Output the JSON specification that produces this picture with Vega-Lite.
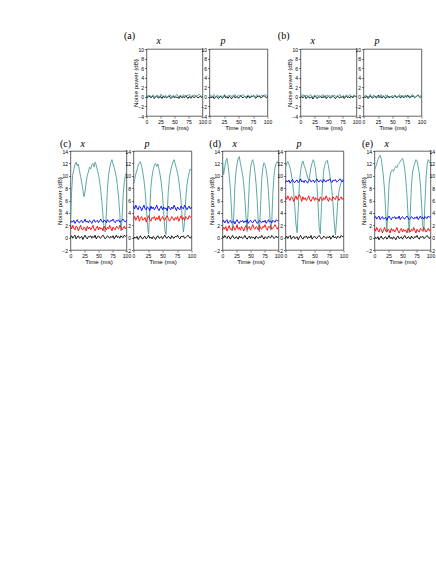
{
"$schema":"https://vega.github.io/schema/vega-lite/v6.json",
"background":"white",
"padding":{"left":43.5,"top":31,"right":0,"bottom":0},
"spacing":7,
"datasets":{
"cx":[{"t":0,"g":2.6,"k":0,"r":1.85,"b":2.4},{"t":2,"g":7.5,"k":0.3,"r":1.4,"b":2.7},{"t":4,"g":10.2,"k":-0.1,"r":2.0,"b":2.5},{"t":6,"g":11.0,"k":0.2,"r":1.55,"b":2.8},{"t":8,"g":11.8,"k":0.4,"r":1.25,"b":2.3},{"t":10,"g":12.2,"k":-0.2,"r":1.85,"b":2.6},{"t":12,"g":11.6,"k":0.1,"r":1.7,"b":2.9},{"t":14,"g":11.9,"k":0.3,"r":1.1,"b":2.5},{"t":16,"g":10.8,"k":-0.1,"r":1.55,"b":2.4},{"t":18,"g":9.9,"k":0,"r":2.0,"b":2.7},{"t":20,"g":8.9,"k":0.2,"r":1.4,"b":2.8},{"t":22,"g":7.8,"k":-0.3,"r":1.25,"b":2.4},{"t":24,"g":6.6,"k":0.1,"r":1.7,"b":2.6},{"t":26,"g":7.4,"k":0.4,"r":1.55,"b":3.0},{"t":28,"g":9.0,"k":0,"r":1.1,"b":2.5},{"t":30,"g":10.1,"k":-0.2,"r":1.85,"b":2.7},{"t":32,"g":10.6,"k":0.2,"r":1.4,"b":2.4},{"t":34,"g":11.4,"k":0.1,"r":1.7,"b":2.8},{"t":36,"g":11.1,"k":0.3,"r":1.25,"b":2.6},{"t":38,"g":11.8,"k":-0.1,"r":1.55,"b":2.3},{"t":40,"g":12.0,"k":0.2,"r":2.0,"b":2.7},{"t":42,"g":11.4,"k":0,"r":1.4,"b":2.9},{"t":44,"g":12.2,"k":0.4,"r":1.1,"b":2.5},{"t":46,"g":11.7,"k":-0.2,"r":1.55,"b":2.6},{"t":48,"g":10.9,"k":0.1,"r":1.85,"b":2.8},{"t":50,"g":10.2,"k":0.3,"r":1.25,"b":2.4},{"t":52,"g":9.1,"k":0,"r":1.7,"b":2.7},{"t":54,"g":7.6,"k":-0.1,"r":1.4,"b":3.0},{"t":56,"g":5.8,"k":0.2,"r":1.55,"b":2.6},{"t":58,"g":3.6,"k":0.4,"r":1.1,"b":2.5},{"t":60,"g":1.4,"k":0.1,"r":1.85,"b":2.8},{"t":62,"g":0.9,"k":-0.2,"r":1.55,"b":2.7},{"t":64,"g":3.8,"k":0,"r":1.25,"b":2.4},{"t":66,"g":7.9,"k":0.3,"r":1.7,"b":2.9},{"t":68,"g":10.1,"k":0.1,"r":1.4,"b":2.6},{"t":70,"g":11.2,"k":-0.1,"r":2.0,"b":2.5},{"t":72,"g":12.1,"k":0.2,"r":1.55,"b":2.8},{"t":74,"g":12.6,"k":0,"r":1.1,"b":2.7},{"t":76,"g":11.9,"k":0.3,"r":1.7,"b":3.0},{"t":78,"g":11.3,"k":-0.2,"r":1.4,"b":2.6},{"t":80,"g":10.6,"k":0.1,"r":1.25,"b":2.4},{"t":82,"g":9.7,"k":0.4,"r":1.85,"b":2.8},{"t":84,"g":8.2,"k":0,"r":1.55,"b":2.7},{"t":86,"g":6.4,"k":0.2,"r":1.4,"b":2.9},{"t":88,"g":3.9,"k":-0.1,"r":2.0,"b":2.5},{"t":90,"g":1.1,"k":0.3,"r":1.7,"b":2.6},{"t":92,"g":2.9,"k":0.1,"r":1.25,"b":2.8},{"t":94,"g":6.8,"k":0,"r":1.55,"b":3.0},{"t":96,"g":8.9,"k":0.4,"r":1.85,"b":2.7},{"t":98,"g":10.0,"k":0.2,"r":1.4,"b":2.5},{"t":100,"g":10.6,"k":0.3,"r":1.7,"b":2.8}],
"cp":[{"t":0,"g":8.6,"k":-0.2,"r":2.95,"b":5.1},{"t":2,"g":9.4,"k":0.1,"r":3.4,"b":4.65},{"t":4,"g":10.3,"k":-0.1,"r":2.8,"b":5.25},{"t":6,"g":10.9,"k":0.2,"r":3.25,"b":4.8},{"t":8,"g":11.6,"k":-0.3,"r":3.55,"b":4.5},{"t":10,"g":12.1,"k":0,"r":2.65,"b":5.1},{"t":12,"g":12.3,"k":0.3,"r":3.1,"b":4.95},{"t":14,"g":11.5,"k":-0.1,"r":3.4,"b":4.35},{"t":16,"g":10.6,"k":-0.2,"r":2.8,"b":4.8},{"t":18,"g":9.3,"k":0.1,"r":2.95,"b":5.25},{"t":20,"g":7.6,"k":0.2,"r":3.25,"b":4.65},{"t":22,"g":5.2,"k":-0.2,"r":2.5,"b":4.5},{"t":24,"g":2.1,"k":0,"r":3.1,"b":4.95},{"t":26,"g":0.6,"k":0.4,"r":3.55,"b":4.8},{"t":28,"g":4.3,"k":-0.1,"r":2.95,"b":4.35},{"t":30,"g":8.2,"k":0.1,"r":2.65,"b":5.1},{"t":32,"g":9.9,"k":-0.2,"r":3.25,"b":4.65},{"t":34,"g":11.0,"k":0.2,"r":3.1,"b":4.95},{"t":36,"g":11.7,"k":0,"r":3.4,"b":4.5},{"t":38,"g":12.0,"k":-0.3,"r":2.8,"b":4.8},{"t":40,"g":11.5,"k":0.1,"r":3.25,"b":5.25},{"t":42,"g":11.9,"k":0.3,"r":2.95,"b":4.65},{"t":44,"g":11.0,"k":-0.1,"r":3.55,"b":4.35},{"t":46,"g":10.1,"k":0,"r":2.65,"b":4.8},{"t":48,"g":8.8,"k":0.2,"r":3.1,"b":5.1},{"t":50,"g":6.9,"k":-0.2,"r":3.4,"b":4.5},{"t":52,"g":4.2,"k":0.1,"r":2.95,"b":4.95},{"t":54,"g":1.3,"k":0.4,"r":2.8,"b":4.65},{"t":56,"g":0.5,"k":0,"r":3.25,"b":4.8},{"t":58,"g":3.7,"k":-0.1,"r":3.55,"b":4.35},{"t":60,"g":7.5,"k":0.2,"r":3.1,"b":5.1},{"t":62,"g":9.6,"k":0.1,"r":2.65,"b":4.8},{"t":64,"g":10.8,"k":-0.2,"r":2.95,"b":4.5},{"t":66,"g":11.6,"k":0.3,"r":3.4,"b":4.95},{"t":68,"g":12.2,"k":0,"r":3.1,"b":4.65},{"t":70,"g":12.6,"k":-0.1,"r":2.8,"b":5.25},{"t":72,"g":11.9,"k":0.2,"r":3.25,"b":4.8},{"t":74,"g":11.2,"k":0.1,"r":2.95,"b":4.35},{"t":76,"g":10.4,"k":0.4,"r":3.4,"b":4.95},{"t":78,"g":9.3,"k":0,"r":2.65,"b":4.65},{"t":80,"g":7.8,"k":-0.2,"r":3.1,"b":4.5},{"t":82,"g":5.9,"k":0.2,"r":3.55,"b":5.1},{"t":84,"g":3.2,"k":0.1,"r":2.95,"b":4.8},{"t":86,"g":0.9,"k":0.3,"r":3.25,"b":4.65},{"t":88,"g":2.4,"k":-0.1,"r":2.8,"b":5.25},{"t":90,"g":6.1,"k":0,"r":3.4,"b":4.95},{"t":92,"g":8.4,"k":0.2,"r":3.1,"b":4.5},{"t":94,"g":9.7,"k":0.4,"r":2.95,"b":4.8},{"t":96,"g":10.5,"k":0.1,"r":3.55,"b":5.1},{"t":98,"g":11.1,"k":-0.1,"r":3.25,"b":4.65},{"t":100,"g":10.8,"k":0.2,"r":3.4,"b":4.95}],
"dx":[{"t":0,"g":12.3,"k":0.25,"r":1.2,"b":2.5},{"t":2,"g":10.2,"k":-0.05,"r":1.65,"b":2.8},{"t":4,"g":11.4,"k":0.35,"r":1.35,"b":2.4},{"t":6,"g":12.4,"k":0.05,"r":1.8,"b":2.7},{"t":8,"g":12.8,"k":-0.15,"r":1.05,"b":2.9},{"t":10,"g":11.6,"k":0.25,"r":1.5,"b":2.3},{"t":12,"g":10.0,"k":0.15,"r":1.95,"b":2.6},{"t":14,"g":7.9,"k":-0.25,"r":1.35,"b":2.8},{"t":16,"g":4.6,"k":0.05,"r":1.2,"b":2.4},{"t":18,"g":1.1,"k":0.35,"r":1.65,"b":2.5},{"t":20,"g":3.4,"k":-0.05,"r":1.8,"b":2.7},{"t":22,"g":8.2,"k":-0.15,"r":1.2,"b":2.2},{"t":24,"g":10.6,"k":0.15,"r":1.5,"b":2.6},{"t":26,"g":11.9,"k":0.05,"r":2.1,"b":2.9},{"t":28,"g":12.7,"k":-0.25,"r":1.35,"b":2.5},{"t":30,"g":13.1,"k":0.25,"r":1.65,"b":2.3},{"t":32,"g":12.0,"k":-0.05,"r":1.2,"b":2.7},{"t":34,"g":11.1,"k":0.15,"r":1.8,"b":2.6},{"t":36,"g":10.1,"k":-0.15,"r":1.5,"b":2.8},{"t":38,"g":8.6,"k":0.05,"r":1.05,"b":2.4},{"t":40,"g":6.3,"k":0.35,"r":1.65,"b":2.7},{"t":42,"g":3.2,"k":-0.05,"r":1.95,"b":2.5},{"t":44,"g":1.0,"k":-0.25,"r":1.35,"b":2.9},{"t":46,"g":4.8,"k":0.05,"r":1.5,"b":2.3},{"t":48,"g":9.0,"k":0.25,"r":1.8,"b":2.6},{"t":50,"g":11.2,"k":-0.15,"r":1.2,"b":2.8},{"t":52,"g":12.2,"k":0.15,"r":1.65,"b":2.5},{"t":54,"g":12.6,"k":-0.05,"r":2.1,"b":2.4},{"t":56,"g":11.8,"k":0.05,"r":1.5,"b":2.7},{"t":58,"g":10.5,"k":-0.25,"r":1.35,"b":2.9},{"t":60,"g":8.7,"k":0.25,"r":1.8,"b":2.6},{"t":62,"g":5.9,"k":0.05,"r":1.65,"b":2.3},{"t":64,"g":2.2,"k":-0.15,"r":1.2,"b":2.5},{"t":66,"g":0.9,"k":0.15,"r":1.95,"b":2.8},{"t":68,"g":5.2,"k":-0.05,"r":1.5,"b":2.6},{"t":70,"g":9.4,"k":0.35,"r":1.35,"b":2.4},{"t":72,"g":11.3,"k":0.05,"r":1.8,"b":2.7},{"t":74,"g":12.1,"k":-0.25,"r":1.65,"b":2.5},{"t":76,"g":11.8,"k":0.15,"r":2.1,"b":2.8},{"t":78,"g":10.9,"k":-0.05,"r":1.5,"b":2.3},{"t":80,"g":9.6,"k":-0.15,"r":1.2,"b":2.6},{"t":82,"g":7.6,"k":0.25,"r":1.8,"b":2.9},{"t":84,"g":4.4,"k":0.05,"r":1.65,"b":2.5},{"t":86,"g":1.2,"k":-0.05,"r":1.95,"b":2.7},{"t":88,"g":2.6,"k":0.35,"r":1.35,"b":2.4},{"t":90,"g":7.3,"k":0.15,"r":1.5,"b":2.8},{"t":92,"g":10.0,"k":-0.15,"r":1.8,"b":2.6},{"t":94,"g":11.4,"k":0.05,"r":2.1,"b":2.5},{"t":96,"g":12.0,"k":0.25,"r":1.65,"b":2.9},{"t":98,"g":12.3,"k":-0.05,"r":1.35,"b":2.7},{"t":100,"g":11.9,"k":0.15,"r":1.8,"b":2.8}],
"dp":[{"t":0,"g":11.4,"k":-0.05,"r":6.6,"b":8.9},{"t":2,"g":11.9,"k":0.25,"r":6.15,"b":9.2},{"t":4,"g":12.3,"k":-0.15,"r":6.75,"b":9.0},{"t":6,"g":11.8,"k":0.15,"r":6.3,"b":9.3},{"t":8,"g":11.2,"k":0.35,"r":6.0,"b":8.8},{"t":10,"g":10.3,"k":-0.25,"r":6.6,"b":9.1},{"t":12,"g":9.1,"k":0.05,"r":6.45,"b":9.4},{"t":14,"g":7.4,"k":0.25,"r":5.85,"b":9.0},{"t":16,"g":5.0,"k":-0.15,"r":6.3,"b":8.9},{"t":18,"g":2.2,"k":-0.05,"r":6.75,"b":9.2},{"t":20,"g":0.8,"k":0.15,"r":6.15,"b":9.3},{"t":22,"g":4.6,"k":-0.35,"r":6.6,"b":8.9},{"t":24,"g":8.7,"k":0.05,"r":6.95,"b":9.1},{"t":26,"g":10.8,"k":0.35,"r":6.5,"b":9.5},{"t":28,"g":11.9,"k":-0.05,"r":5.85,"b":9.0},{"t":30,"g":12.4,"k":-0.25,"r":6.6,"b":9.2},{"t":32,"g":11.7,"k":0.15,"r":6.15,"b":8.9},{"t":34,"g":11.2,"k":0.05,"r":6.45,"b":9.3},{"t":36,"g":10.5,"k":0.25,"r":6.0,"b":9.1},{"t":38,"g":9.8,"k":-0.15,"r":6.3,"b":8.8},{"t":40,"g":9.3,"k":0.15,"r":6.75,"b":9.2},{"t":42,"g":10.2,"k":-0.05,"r":6.15,"b":9.4},{"t":44,"g":11.4,"k":0.35,"r":5.85,"b":9.0},{"t":46,"g":12.1,"k":-0.25,"r":6.3,"b":9.1},{"t":48,"g":12.6,"k":0.05,"r":6.6,"b":9.3},{"t":50,"g":12.0,"k":0.25,"r":6.0,"b":8.9},{"t":52,"g":10.8,"k":-0.05,"r":6.45,"b":9.2},{"t":54,"g":8.9,"k":-0.15,"r":6.15,"b":9.5},{"t":56,"g":5.6,"k":0.15,"r":6.3,"b":9.1},{"t":58,"g":1.8,"k":0.35,"r":5.85,"b":9.0},{"t":60,"g":0.6,"k":0.05,"r":6.6,"b":9.3},{"t":62,"g":4.9,"k":-0.25,"r":6.3,"b":9.2},{"t":64,"g":8.8,"k":-0.05,"r":6.0,"b":8.9},{"t":66,"g":10.9,"k":0.25,"r":6.45,"b":9.4},{"t":68,"g":11.8,"k":0.05,"r":6.15,"b":9.1},{"t":70,"g":12.3,"k":-0.15,"r":6.75,"b":9.0},{"t":72,"g":12.5,"k":0.15,"r":6.3,"b":9.3},{"t":74,"g":11.6,"k":-0.05,"r":5.85,"b":9.2},{"t":76,"g":10.4,"k":0.25,"r":6.45,"b":9.5},{"t":78,"g":9.2,"k":-0.25,"r":6.15,"b":9.1},{"t":80,"g":7.6,"k":0.05,"r":6.0,"b":8.9},{"t":82,"g":5.3,"k":0.35,"r":6.6,"b":9.3},{"t":84,"g":2.4,"k":-0.05,"r":6.3,"b":9.2},{"t":86,"g":0.4,"k":0.15,"r":6.15,"b":9.4},{"t":88,"g":2.7,"k":-0.15,"r":6.75,"b":9.0},{"t":90,"g":5.8,"k":0.25,"r":6.45,"b":9.1},{"t":92,"g":7.4,"k":0.05,"r":6.0,"b":9.3},{"t":94,"g":8.3,"k":-0.05,"r":6.3,"b":9.5},{"t":96,"g":8.9,"k":0.35,"r":6.6,"b":9.2},{"t":98,"g":9.4,"k":0.15,"r":6.15,"b":9.0},{"t":100,"g":9.1,"k":0.25,"r":6.45,"b":9.3}],
"ex":[{"t":0,"g":10.9,"k":-0.25,"r":1.5,"b":3.1},{"t":2,"g":11.4,"k":0.05,"r":1.05,"b":3.4},{"t":4,"g":11.9,"k":-0.15,"r":1.65,"b":3.0},{"t":6,"g":12.6,"k":0.15,"r":1.2,"b":3.3},{"t":8,"g":13.0,"k":-0.35,"r":0.9,"b":3.5},{"t":10,"g":13.3,"k":-0.05,"r":1.5,"b":2.9},{"t":12,"g":12.7,"k":0.25,"r":1.35,"b":3.2},{"t":14,"g":11.4,"k":-0.15,"r":0.75,"b":3.4},{"t":16,"g":9.8,"k":-0.25,"r":1.2,"b":3.0},{"t":18,"g":7.6,"k":0.05,"r":1.65,"b":3.1},{"t":20,"g":4.2,"k":0.15,"r":1.05,"b":3.3},{"t":22,"g":0.9,"k":-0.25,"r":0.9,"b":2.8},{"t":24,"g":4.5,"k":-0.05,"r":1.35,"b":3.2},{"t":26,"g":8.6,"k":0.35,"r":1.2,"b":3.5},{"t":28,"g":10.1,"k":-0.15,"r":0.75,"b":3.1},{"t":30,"g":10.8,"k":0.05,"r":1.5,"b":2.9},{"t":32,"g":11.0,"k":-0.25,"r":1.05,"b":3.3},{"t":34,"g":10.7,"k":0.15,"r":1.35,"b":3.2},{"t":36,"g":11.2,"k":-0.05,"r":0.9,"b":3.4},{"t":38,"g":11.5,"k":-0.35,"r":1.2,"b":3.0},{"t":40,"g":11.3,"k":0.05,"r":1.65,"b":3.3},{"t":42,"g":11.8,"k":0.25,"r":1.05,"b":3.1},{"t":44,"g":12.0,"k":-0.15,"r":0.75,"b":3.5},{"t":46,"g":12.3,"k":-0.05,"r":1.2,"b":2.9},{"t":48,"g":12.6,"k":0.15,"r":1.5,"b":3.2},{"t":50,"g":12.8,"k":-0.25,"r":0.9,"b":3.4},{"t":52,"g":12.2,"k":0.05,"r":1.35,"b":3.1},{"t":54,"g":11.0,"k":0.35,"r":1.05,"b":3.0},{"t":56,"g":9.3,"k":-0.05,"r":1.2,"b":3.3},{"t":58,"g":6.8,"k":-0.15,"r":0.75,"b":3.5},{"t":60,"g":3.4,"k":0.15,"r":1.5,"b":3.2},{"t":62,"g":0.8,"k":0.05,"r":1.2,"b":2.9},{"t":64,"g":4.1,"k":-0.25,"r":0.9,"b":3.1},{"t":66,"g":8.5,"k":0.25,"r":1.35,"b":3.4},{"t":68,"g":10.6,"k":-0.05,"r":1.05,"b":3.2},{"t":70,"g":11.5,"k":-0.15,"r":1.65,"b":3.0},{"t":72,"g":12.0,"k":0.15,"r":1.2,"b":3.3},{"t":74,"g":12.6,"k":0.05,"r":0.75,"b":3.1},{"t":76,"g":12.4,"k":0.35,"r":1.35,"b":3.4},{"t":78,"g":11.5,"k":-0.05,"r":1.05,"b":2.9},{"t":80,"g":10.4,"k":-0.25,"r":0.9,"b":3.2},{"t":82,"g":8.5,"k":0.15,"r":1.5,"b":3.5},{"t":84,"g":5.6,"k":0.05,"r":1.2,"b":3.1},{"t":86,"g":2.0,"k":0.25,"r":1.05,"b":3.3},{"t":88,"g":1.0,"k":-0.15,"r":1.65,"b":3.0},{"t":90,"g":5.4,"k":-0.05,"r":1.35,"b":3.4},{"t":92,"g":9.6,"k":0.15,"r":0.9,"b":3.2},{"t":94,"g":11.8,"k":0.35,"r":1.2,"b":3.1},{"t":96,"g":12.6,"k":0.05,"r":1.5,"b":3.5},{"t":98,"g":12.3,"k":-0.15,"r":1.05,"b":3.3},{"t":100,"g":12.0,"k":0.15,"r":1.35,"b":3.4}],
"ax":[{"t":0,"k":0.15,"g":-0.05},{"t":2,"k":-0.15,"g":0.25},{"t":4,"k":0.25,"g":0.05},{"t":6,"k":-0.05,"g":0.35},{"t":8,"k":-0.25,"g":-0.15},{"t":10,"k":0.15,"g":0.15},{"t":12,"k":0.05,"g":0.45},{"t":14,"k":-0.35,"g":0.05},{"t":16,"k":-0.05,"g":-0.05},{"t":18,"k":0.25,"g":0.25},{"t":20,"k":-0.15,"g":0.35},{"t":22,"k":-0.25,"g":-0.05},{"t":24,"k":0.05,"g":0.15},{"t":26,"k":-0.05,"g":0.55},{"t":28,"k":-0.35,"g":0.05},{"t":30,"k":0.15,"g":0.25},{"t":32,"k":-0.15,"g":-0.05},{"t":34,"k":0.05,"g":0.35},{"t":36,"k":-0.25,"g":0.15},{"t":38,"k":-0.05,"g":-0.15},{"t":40,"k":0.25,"g":0.25},{"t":42,"k":-0.15,"g":0.45},{"t":44,"k":-0.35,"g":0.05},{"t":46,"k":-0.05,"g":0.15},{"t":48,"k":0.15,"g":0.35},{"t":50,"k":-0.25,"g":-0.05},{"t":52,"k":0.05,"g":0.25},{"t":54,"k":-0.15,"g":0.55},{"t":56,"k":-0.05,"g":0.15},{"t":58,"k":-0.35,"g":0.05},{"t":60,"k":0.15,"g":0.35},{"t":62,"k":-0.05,"g":0.25},{"t":64,"k":-0.25,"g":-0.05},{"t":66,"k":0.05,"g":0.45},{"t":68,"k":-0.15,"g":0.15},{"t":70,"k":0.25,"g":0.05},{"t":72,"k":-0.05,"g":0.35},{"t":74,"k":-0.35,"g":0.25},{"t":76,"k":0.05,"g":0.55},{"t":78,"k":-0.15,"g":0.15},{"t":80,"k":-0.25,"g":-0.05},{"t":82,"k":0.15,"g":0.35},{"t":84,"k":-0.05,"g":0.25},{"t":86,"k":-0.15,"g":0.45},{"t":88,"k":0.25,"g":0.05},{"t":90,"k":0.05,"g":0.15},{"t":92,"k":-0.25,"g":0.35},{"t":94,"k":-0.05,"g":0.55},{"t":96,"k":0.15,"g":0.25},{"t":98,"k":-0.15,"g":0.05},{"t":100,"k":0.05,"g":0.35}],
"ap":[{"t":0,"k":-0.3,"g":0.1},{"t":2,"k":0,"g":0.4},{"t":4,"k":-0.2,"g":0},{"t":6,"k":0.1,"g":0.3},{"t":8,"k":-0.4,"g":0.5},{"t":10,"k":-0.1,"g":-0.1},{"t":12,"k":0.2,"g":0.2},{"t":14,"k":-0.2,"g":0.4},{"t":16,"k":-0.3,"g":0},{"t":18,"k":0,"g":0.1},{"t":20,"k":0.1,"g":0.3},{"t":22,"k":-0.3,"g":-0.2},{"t":24,"k":-0.1,"g":0.2},{"t":26,"k":0.3,"g":0.5},{"t":28,"k":-0.2,"g":0.1},{"t":30,"k":0,"g":-0.1},{"t":32,"k":-0.3,"g":0.3},{"t":34,"k":0.1,"g":0.2},{"t":36,"k":-0.1,"g":0.4},{"t":38,"k":-0.4,"g":0},{"t":40,"k":0,"g":0.3},{"t":42,"k":0.2,"g":0.1},{"t":44,"k":-0.2,"g":0.5},{"t":46,"k":-0.1,"g":-0.1},{"t":48,"k":0.1,"g":0.2},{"t":50,"k":-0.3,"g":0.4},{"t":52,"k":0,"g":0.1},{"t":54,"k":0.3,"g":0},{"t":56,"k":-0.1,"g":0.3},{"t":58,"k":-0.2,"g":0.5},{"t":60,"k":0.1,"g":0.2},{"t":62,"k":0,"g":-0.1},{"t":64,"k":-0.3,"g":0.1},{"t":66,"k":0.2,"g":0.4},{"t":68,"k":-0.1,"g":0.2},{"t":70,"k":-0.2,"g":0},{"t":72,"k":0.1,"g":0.3},{"t":74,"k":0,"g":0.1},{"t":76,"k":0.3,"g":0.4},{"t":78,"k":-0.1,"g":-0.1},{"t":80,"k":-0.3,"g":0.2},{"t":82,"k":0.1,"g":0.5},{"t":84,"k":0,"g":0.1},{"t":86,"k":0.2,"g":0.3},{"t":88,"k":-0.2,"g":0},{"t":90,"k":-0.1,"g":0.4},{"t":92,"k":0.1,"g":0.2},{"t":94,"k":0.3,"g":0.1},{"t":96,"k":0,"g":0.5},{"t":98,"k":-0.2,"g":0.3},{"t":100,"k":0.1,"g":0.4}],
"bx":[{"t":0,"k":-0.15,"g":0.4},{"t":2,"k":0.15,"g":0.1},{"t":4,"k":-0.25,"g":0.5},{"t":6,"k":0.05,"g":0.2},{"t":8,"k":0.25,"g":0},{"t":10,"k":-0.35,"g":0.4},{"t":12,"k":-0.05,"g":0.3},{"t":14,"k":0.15,"g":-0.1},{"t":16,"k":-0.25,"g":0.2},{"t":18,"k":-0.15,"g":0.5},{"t":20,"k":0.05,"g":0.1},{"t":22,"k":-0.45,"g":0},{"t":24,"k":-0.05,"g":0.3},{"t":26,"k":0.25,"g":0.2},{"t":28,"k":-0.15,"g":-0.1},{"t":30,"k":-0.35,"g":0.4},{"t":32,"k":0.05,"g":0.1},{"t":34,"k":-0.05,"g":0.3},{"t":36,"k":0.15,"g":0},{"t":38,"k":-0.25,"g":0.2},{"t":40,"k":0.05,"g":0.5},{"t":42,"k":-0.15,"g":0.1},{"t":44,"k":0.25,"g":-0.1},{"t":46,"k":-0.35,"g":0.2},{"t":48,"k":-0.05,"g":0.4},{"t":50,"k":0.15,"g":0},{"t":52,"k":-0.15,"g":0.3},{"t":54,"k":-0.25,"g":0.1},{"t":56,"k":0.05,"g":0.2},{"t":58,"k":0.25,"g":-0.1},{"t":60,"k":-0.05,"g":0.4},{"t":62,"k":-0.35,"g":0.2},{"t":64,"k":-0.15,"g":0},{"t":66,"k":0.15,"g":0.3},{"t":68,"k":-0.05,"g":0.1},{"t":70,"k":-0.25,"g":0.5},{"t":72,"k":0.05,"g":0.2},{"t":74,"k":-0.15,"g":-0.1},{"t":76,"k":0.15,"g":0.3},{"t":78,"k":-0.35,"g":0.1},{"t":80,"k":-0.05,"g":0},{"t":82,"k":0.25,"g":0.4},{"t":84,"k":-0.15,"g":0.2},{"t":86,"k":0.05,"g":0.1},{"t":88,"k":-0.25,"g":0.5},{"t":90,"k":0.15,"g":0.3},{"t":92,"k":-0.05,"g":0},{"t":94,"k":-0.15,"g":0.2},{"t":96,"k":0.25,"g":0.4},{"t":98,"k":0.05,"g":0.1},{"t":100,"k":0.15,"g":0.3}],
"bp":[{"t":0,"k":-0.25,"g":0.3},{"t":2,"k":0.05,"g":0},{"t":4,"k":-0.15,"g":0.4},{"t":6,"k":0.15,"g":0.1},{"t":8,"k":-0.35,"g":-0.1},{"t":10,"k":-0.05,"g":0.3},{"t":12,"k":0.25,"g":0.5},{"t":14,"k":-0.15,"g":0},{"t":16,"k":-0.25,"g":0.1},{"t":18,"k":0.05,"g":0.4},{"t":20,"k":0.15,"g":-0.1},{"t":22,"k":-0.25,"g":0},{"t":24,"k":-0.05,"g":0.3},{"t":26,"k":0.35,"g":-0.2},{"t":28,"k":-0.15,"g":0.1},{"t":30,"k":0.05,"g":0.5},{"t":32,"k":-0.25,"g":0},{"t":34,"k":0.15,"g":0.3},{"t":36,"k":-0.05,"g":-0.1},{"t":38,"k":-0.35,"g":0.4},{"t":40,"k":0.05,"g":0.2},{"t":42,"k":0.25,"g":-0.2},{"t":44,"k":-0.15,"g":0},{"t":46,"k":-0.05,"g":0.1},{"t":48,"k":0.15,"g":0},{"t":50,"k":-0.25,"g":0.3},{"t":52,"k":0.05,"g":-0.1},{"t":54,"k":0.35,"g":0.4},{"t":56,"k":-0.05,"g":0.2},{"t":58,"k":-0.15,"g":-0.2},{"t":60,"k":0.15,"g":0},{"t":62,"k":0.05,"g":0.5},{"t":64,"k":-0.25,"g":0.1},{"t":66,"k":0.25,"g":-0.1},{"t":68,"k":-0.05,"g":0.3},{"t":70,"k":-0.15,"g":0},{"t":72,"k":0.15,"g":0.4},{"t":74,"k":0.05,"g":-0.2},{"t":76,"k":0.35,"g":0.1},{"t":78,"k":-0.05,"g":0.3},{"t":80,"k":-0.25,"g":-0.1},{"t":82,"k":0.15,"g":0},{"t":84,"k":0.05,"g":0.5},{"t":86,"k":0.25,"g":0.1},{"t":88,"k":-0.15,"g":-0.2},{"t":90,"k":-0.05,"g":-0.1},{"t":92,"k":0.15,"g":0.2},{"t":94,"k":0.35,"g":0.5},{"t":96,"k":0.05,"g":0},{"t":98,"k":-0.15,"g":0.3},{"t":100,"k":0.15,"g":0.2}]
},
"vconcat":[
{"hconcat":[
{"width":95.5,"height":67,"title":{"text":"(a)","anchor":"end","dx":-4,"offset":8,"fontStyle":"normal"},"view":{"stroke":null},"data":{"values":[]},"mark":"point","encoding":{}},
{"width":56,"height":67,"title":{"text":"x","dx":10},"data":{"name":"ax"},"transform":[{"fold":["k","g"],"as":["s","v"]}],"mark":{"type":"line","strokeWidth":0.9},"encoding":{"x":{"field":"t","type":"quantitative","scale":{"domain":[0,100]},"axis":{"values":[0,25,50,75,100],"title":"Time (ms)"}},"y":{"field":"v","type":"quantitative","scale":{"domain":[-4,10]},"axis":{"values":[-4,-2,0,2,4,6,8,10],"title":"Noise power (dB)"}},"color":{"field":"s","type":"nominal","scale":{"domain":["g","k","r","b"],"range":["#4d9e99","#000000","#ff0000","#0000ff"]},"legend":null}}},
{"width":58,"height":67,"title":{"text":"p","dx":11},"data":{"name":"ap"},"transform":[{"fold":["k","g"],"as":["s","v"]}],"mark":{"type":"line","strokeWidth":0.9},"encoding":{"x":{"field":"t","type":"quantitative","scale":{"domain":[0,100]},"axis":{"values":[0,25,50,75,100],"title":"Time (ms)"}},"y":{"field":"v","type":"quantitative","scale":{"domain":[-4,10]},"axis":{"values":[-4,-2,0,2,4,6,8,10],"title":null}},"color":{"field":"s","type":"nominal","scale":{"domain":["g","k","r","b"],"range":["#4d9e99","#000000","#ff0000","#0000ff"]},"legend":null}}},
{"width":19,"height":67,"title":{"text":"(b)","anchor":"end","dx":-4,"offset":8,"fontStyle":"normal"},"view":{"stroke":null},"data":{"values":[]},"mark":"point","encoding":{}},
{"width":56,"height":67,"title":{"text":"x","dx":10},"data":{"name":"bx"},"transform":[{"fold":["k","g"],"as":["s","v"]}],"mark":{"type":"line","strokeWidth":0.9},"encoding":{"x":{"field":"t","type":"quantitative","scale":{"domain":[0,100]},"axis":{"values":[0,25,50,75,100],"title":"Time (ms)"}},"y":{"field":"v","type":"quantitative","scale":{"domain":[-4,10]},"axis":{"values":[-4,-2,0,2,4,6,8,10],"title":"Noise power (dB)"}},"color":{"field":"s","type":"nominal","scale":{"domain":["g","k","r","b"],"range":["#4d9e99","#000000","#ff0000","#0000ff"]},"legend":null}}},
{"width":58,"height":67,"title":{"text":"p","dx":11},"data":{"name":"bp"},"transform":[{"fold":["k","g"],"as":["s","v"]}],"mark":{"type":"line","strokeWidth":0.9},"encoding":{"x":{"field":"t","type":"quantitative","scale":{"domain":[0,100]},"axis":{"values":[0,25,50,75,100],"title":"Time (ms)"}},"y":{"field":"v","type":"quantitative","scale":{"domain":[-4,10]},"axis":{"values":[-4,-2,0,2,4,6,8,10],"title":null}},"color":{"field":"s","type":"nominal","scale":{"domain":["g","k","r","b"],"range":["#4d9e99","#000000","#ff0000","#0000ff"]},"legend":null}}}
],"spacing":7,"bounds":"flush"},
{"hconcat":[
{"width":20,"height":99,"title":{"text":"(c)","anchor":"end","dx":7.5,"offset":2.5,"fontStyle":"normal"},"view":{"stroke":null},"data":{"values":[]},"mark":"point","encoding":{}},
{"width":56,"height":99,"title":{"text":"x","dx":10,"offset":0.5},"data":{"name":"cx"},"transform":[{"fold":["g","k","r","b"],"as":["s","v"]}],"mark":{"type":"line","strokeWidth":0.9},"encoding":{"x":{"field":"t","type":"quantitative","scale":{"domain":[0,100]},"axis":{"values":[0,25,50,75,100],"title":"Time (ms)"}},"y":{"field":"v","type":"quantitative","scale":{"domain":[-2,14]},"axis":{"values":[-2,0,2,4,6,8,10,12,14],"title":"Noise power (dB)"}},"color":{"field":"s","type":"nominal","scale":{"domain":["g","k","r","b"],"range":["#4d9e99","#000000","#ff0000","#0000ff"]},"legend":null}}},
{"width":58,"height":99,"title":{"text":"p","dx":11,"offset":0.5},"data":{"name":"cp"},"transform":[{"fold":["g","k","r","b"],"as":["s","v"]}],"mark":{"type":"line","strokeWidth":0.9},"encoding":{"x":{"field":"t","type":"quantitative","scale":{"domain":[0,100]},"axis":{"values":[0,25,50,75,100],"title":"Time (ms)"}},"y":{"field":"v","type":"quantitative","scale":{"domain":[-2,14]},"axis":{"values":[-2,0,2,4,6,8,10,12,14],"title":null}},"color":{"field":"s","type":"nominal","scale":{"domain":["g","k","r","b"],"range":["#4d9e99","#000000","#ff0000","#0000ff"]},"legend":null}}},
{"width":16.5,"height":99,"title":{"text":"(d)","anchor":"end","dx":6,"offset":2.5,"fontStyle":"normal"},"view":{"stroke":null},"data":{"values":[]},"mark":"point","encoding":{}},
{"width":56,"height":99,"title":{"text":"x","dx":10,"offset":0.5},"data":{"name":"dx"},"transform":[{"fold":["g","k","r","b"],"as":["s","v"]}],"mark":{"type":"line","strokeWidth":0.9},"encoding":{"x":{"field":"t","type":"quantitative","scale":{"domain":[0,100]},"axis":{"values":[0,25,50,75,100],"title":"Time (ms)"}},"y":{"field":"v","type":"quantitative","scale":{"domain":[-2,14]},"axis":{"values":[-2,0,2,4,6,8,10,12,14],"title":"Noise power (dB)"}},"color":{"field":"s","type":"nominal","scale":{"domain":["g","k","r","b"],"range":["#4d9e99","#000000","#ff0000","#0000ff"]},"legend":null}}},
{"width":58,"height":99,"title":{"text":"p","dx":11,"offset":0.5},"data":{"name":"dp"},"transform":[{"fold":["g","k","r","b"],"as":["s","v"]}],"mark":{"type":"line","strokeWidth":0.9},"encoding":{"x":{"field":"t","type":"quantitative","scale":{"domain":[0,100]},"axis":{"values":[0,25,50,75,100],"title":"Time (ms)"}},"y":{"field":"v","type":"quantitative","scale":{"domain":[-2,14]},"axis":{"values":[-2,0,2,4,6,8,10,12,14],"title":null}},"color":{"field":"s","type":"nominal","scale":{"domain":["g","k","r","b"],"range":["#4d9e99","#000000","#ff0000","#0000ff"]},"legend":null}}},
{"width":16.5,"height":99,"title":{"text":"(e)","anchor":"end","dx":6,"offset":2.5,"fontStyle":"normal"},"view":{"stroke":null},"data":{"values":[]},"mark":"point","encoding":{}},
{"width":56,"height":99,"title":{"text":"x","dx":10,"offset":0.5},"data":{"name":"ex"},"transform":[{"fold":["g","k","r","b"],"as":["s","v"]}],"mark":{"type":"line","strokeWidth":0.9},"encoding":{"x":{"field":"t","type":"quantitative","scale":{"domain":[0,100]},"axis":{"values":[0,25,50,75,100],"title":"Time (ms)"}},"y":{"field":"v","type":"quantitative","scale":{"domain":[-2,14]},"axis":{"values":[-2,0,2,4,6,8,10,12,14],"title":"Noise power (dB)"}},"color":{"field":"s","type":"nominal","scale":{"domain":["g","k","r","b"],"range":["#4d9e99","#000000","#ff0000","#0000ff"]},"legend":null}}},
{"width":58,"height":99,"title":{"text":"p","dx":11,"offset":0.5},"data":{"name":"cp"},"transform":[{"fold":["g","k","r","b"],"as":["s","v"]}],"mark":{"type":"line","strokeWidth":0.9},"encoding":{"x":{"field":"t","type":"quantitative","scale":{"domain":[0,100]},"axis":{"values":[0,25,50,75,100],"title":"Time (ms)"}},"y":{"field":"v","type":"quantitative","scale":{"domain":[-2,14]},"axis":{"values":[-2,0,2,4,6,8,10,12,14],"title":null}},"color":{"field":"s","type":"nominal","scale":{"domain":["g","k","r","b"],"range":["#4d9e99","#000000","#ff0000","#0000ff"]},"legend":null}}}
],"spacing":7,"bounds":"flush"}
],
"config":{
"view":{"stroke":"#222","strokeWidth":0.7},
"axis":{"grid":false,"domain":false,"labelFont":"Liberation Sans","labelFontSize":5,"labelColor":"#000","labelPadding":1,"tickSize":2,"tickColor":"#222","tickWidth":0.6,"titleFont":"Liberation Sans","titleFontSize":6.2,"titleFontWeight":"normal","titleColor":"#000","labelOverlap":false,"labelFlush":false},
"axisY":{"titlePadding":0.5,"minExtent":8,"maxExtent":8},
"axisX":{"titlePadding":0},
"title":{"font":"Liberation Serif","fontStyle":"italic","fontWeight":"normal","fontSize":10,"anchor":"start","frame":"group","color":"#000","offset":1}
}
}
